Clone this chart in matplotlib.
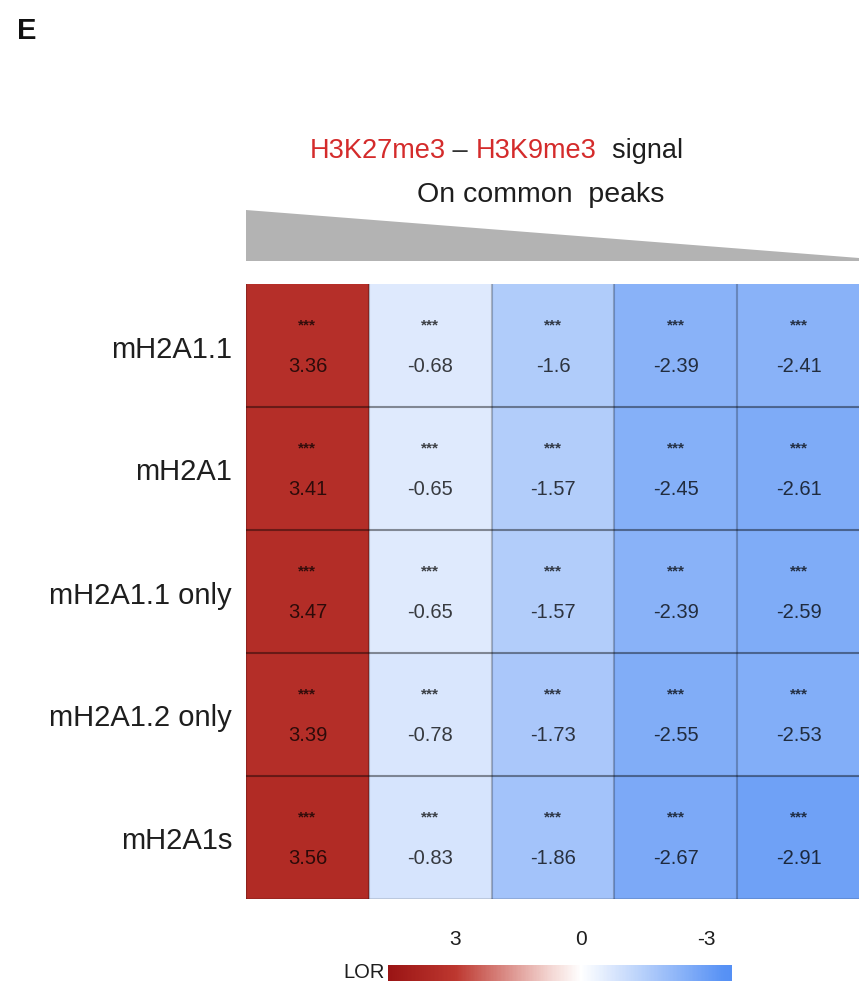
import numpy as np
import matplotlib
matplotlib.use("Agg")
import matplotlib.pyplot as plt
from matplotlib.colors import LinearSegmentedColormap, Normalize
from matplotlib.patches import Polygon

plt.rcParams['font.family'] = ['Liberation Sans', 'DejaVu Sans']

# ---- data ----
rows = ["mH2A1.1", "mH2A1", "mH2A1.1 only", "mH2A1.2 only", "mH2A1s"]
bins = ["Q1", "Q2", "Q3", "Q4", "Q5"]
lor_q1 = [3.36, 3.41, 3.47, 3.39, 3.56]
lor_q2 = [-0.68, -0.65, -0.65, -0.78, -0.83]
lor_q3 = [-1.6, -1.57, -1.57, -1.73, -1.86]
lor_q4 = [-2.39, -2.45, -2.39, -2.55, -2.67]
lor_q5 = [-2.41, -2.61, -2.59, -2.53, -2.91]
signif = ["***"] * 5
cbar_ticks = [3, 0, -3]

values = np.column_stack([lor_q1, lor_q2, lor_q3, lor_q4, lor_q5])
nrow, ncol = values.shape

# ---- colour scale (blue for negative, red for positive LOR) ----
vmin, vmax = -3.6, 4.6
stops = [(-3.6, "#5590f5"), (-3.4, "#5892f5"), (0.0, "#ffffff"),
         (0.8, "#f2d2ce"), (3.0, "#bd372f"), (4.6, "#9a1414")]
cmap = LinearSegmentedColormap.from_list(
    "lor", [((v - vmin) / (vmax - vmin), c) for v, c in stops])
norm = Normalize(vmin=vmin, vmax=vmax)

W, H = 859, 987
fig = plt.figure(figsize=(W / 100, H / 100), dpi=100)

# heatmap
ax = fig.add_axes([246 / W, 1 - 900 / H, (860 - 246) / W, (900 - 285) / H])
ax.pcolormesh(np.arange(ncol + 1), np.arange(nrow + 1), values,
              cmap=cmap, norm=norm, shading="flat")
ax.set_xlim(0, ncol)
ax.set_ylim(nrow, 0)
for k in range(1, nrow):
    ax.axhline(k, color=(0, 0, 0, 0.42), lw=1.5)
for k in range(1, ncol):
    ax.axvline(k, color=(0, 0, 0, 0.24), lw=1.5)
ax.axvline(0, color=(0, 0, 0, 0.2), lw=1.5)
ax.axhline(nrow, color=(0, 0, 0, 0.12), lw=1.5)
for s in ax.spines.values():
    s.set_visible(False)
ax.set_xticks([])
ax.set_yticks(np.arange(nrow) + 0.5)
ax.set_yticklabels(rows, fontsize=21, color="#1e1e1e")
ax.tick_params(axis="y", length=0, pad=10)

for i in range(nrow):
    for j in range(ncol):
        ax.text(j + 0.5, i + 0.33, signif[i], ha="center", va="center",
                fontsize=11, fontweight="bold", color=(0, 0, 0, 0.72))
        ax.text(j + 0.5, i + 0.66, f"{values[i, j]:g}", ha="center",
                va="center", fontsize=14.5, color=(0, 0, 0, 0.75))

# grey wedge indicating decreasing signal
wedge = Polygon([(246 / W, 1 - 211 / H), (246 / W, 1 - 262 / H),
                 (859 / W, 1 - 262 / H), (859 / W, 1 - 259 / H)],
                closed=True, transform=fig.transFigure,
                facecolor="#b3b3b3", edgecolor="none")
fig.patches.append(wedge)

# header text
red = "#d42b2b"
y1 = 1 - 158 / H
parts = [("H3K27me3", red), (" – ", "#333333"), ("H3K9me3", red), ("  signal", "#1e1e1e")]
renderer = fig.canvas.get_renderer()
widths = []
tmp = []
for s, c in parts:
    t = fig.text(0, y1, s, fontsize=19.5, color=c, va="baseline")
    widths.append(t.get_window_extent(renderer).width)
    tmp.append(t)
x = 496 - sum(widths) / 2
for t, w in zip(tmp, widths):
    t.set_x(x / W)
    x += w
fig.text(541 / W, 1 - 202 / H, "On common  peaks", fontsize=20.5,
         color="#1e1e1e", ha="center", va="baseline")

# panel letter
fig.text(17 / W, 1 - 31 / H, "E", fontsize=21, fontweight="bold",
         color="#111111", va="center", ha="left")

# colour bar
cax = fig.add_axes([388 / W, 1 - 982 / H, (732 - 388) / W, 16 / H])
cb = fig.colorbar(plt.cm.ScalarMappable(norm=norm, cmap=cmap), cax=cax,
                  orientation="horizontal")
cax.invert_xaxis()
cb.outline.set_visible(False)
cax.xaxis.set_ticks_position("top")
cb.set_ticks(cbar_ticks)
cb.set_ticklabels([f"{t:g}" for t in cbar_ticks])
cax.tick_params(length=0, labelsize=15, pad=12, colors="#1e1e1e")
fig.text(385 / W, 1 - 973 / H, "LOR", fontsize=14.5, color="#1e1e1e",
         ha="right", va="center")

fig.savefig("out.png", dpi=100)
